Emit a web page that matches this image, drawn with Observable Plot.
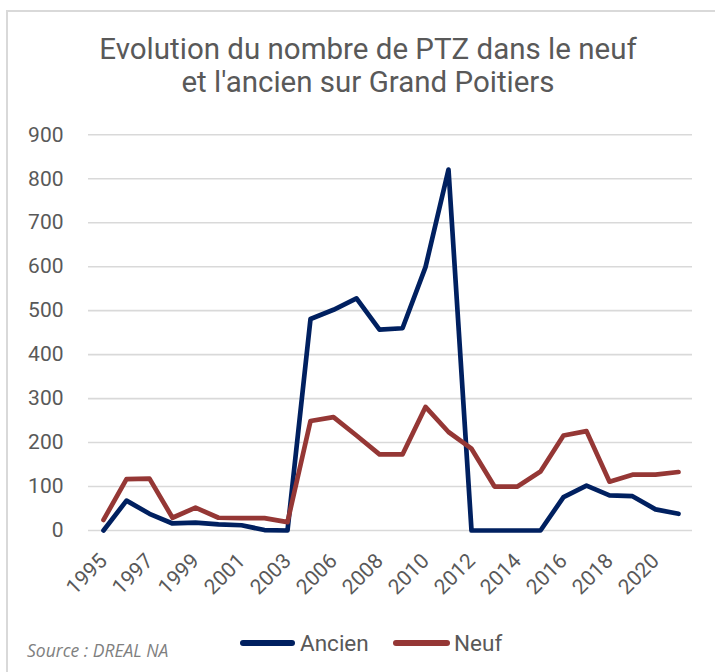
<!DOCTYPE html>
<html>
<head>
<meta charset="utf-8">
<script src="https://cdn.jsdelivr.net/npm/d3@7"></script>
<script src="https://cdn.jsdelivr.net/npm/@observablehq/plot@0.6"></script>
<style>
  html, body { margin: 0; padding: 0; background: #fff; }
  #wrap { position: relative; width: 715px; height: 672px; overflow: hidden; font-family: Roboto, sans-serif; }
  #frame { position: absolute; left: 6px; top: 10px; width: 800px; height: 800px; border: 2px solid #d9d9d9; box-sizing: border-box; }
  #title { position: absolute; left: 0; width: 736px; top: 32.5px; text-align: center; font-size: 29.5px; line-height: 33.8px; color: #595959; }
  #chart { position: absolute; left: 0; top: 110px; }
  #source { position: absolute; left: 27px; top: 638px; font-family: "Open Sans", sans-serif; font-style: italic; font-size: 17.5px; color: #7f7f7f; white-space: nowrap; }
  .sw { position: absolute; height: 6px; border-radius: 3px; top: 639.7px; }
  .lt { position: absolute; top: 630px; font-size: 22.5px; line-height: 26px; color: #595959; white-space: nowrap; }
</style>
</head>
<body>
<div id="wrap">
  <div id="frame"></div>
  <div id="title">Evolution du nombre de PTZ dans le neuf<br>et l'ancien sur Grand Poitiers</div>
  <div id="chart"></div>
  <div id="legend"></div>
  <div id="source">Source : DREAL NA</div>
</div>
<script>
const years = [1995,1996,1997,1998,1999,2000,2001,2002,2003,2005,2006,2007,2008,2009,2010,2011,2012,2013,2014,2015,2016,2017,2018,2019,2020,2021];
const ancien = [0,68,38,16,18,14,12,1,0,481,502,528,457,460,599,821,0,0,0,0,76,102,80,78,48,38];
const neuf = [24,117,118,29,52,29,28,28,19,249,258,216,173,173,281,224,186,100,100,134,216,226,111,127,127,133];
const xTickLabels = [1995,1997,1999,2001,2003,2006,2008,2010,2012,2014,2016,2018,2020];
const yTicks = [0,100,200,300,400,500,600,700,800,900];
const seriesNames = ["Ancien", "Neuf"];
const seriesColors = ["#002060", "#953735"];

const rows = [];
years.forEach((y, i) => {
  rows.push({year: y, value: ancien[i], serie: seriesNames[0]});
  rows.push({year: y, value: neuf[i], serie: seriesNames[1]});
});

const chart = Plot.plot({
  width: 715,
  height: 500,
  marginLeft: 88,
  marginRight: 23,
  marginTop: 24.3,
  marginBottom: 80,
  style: {fontFamily: "Roboto, sans-serif", color: "#595959", background: "transparent", overflow: "visible"},
  x: {type: "point", domain: years, padding: 0.5, label: null},
  y: {domain: [0, 900], label: null},
  color: {domain: seriesNames, range: seriesColors},
  marks: [
    Plot.gridY(yTicks, {stroke: "#d9d9d9", strokeOpacity: 1, strokeWidth: 1.6}),
    Plot.axisY({ticks: yTicks, tickSize: 0, tickPadding: 25, fontSize: 21, label: null}),
    Plot.axisX({ticks: xTickLabels, tickFormat: d => `${d}`, tickSize: 0, tickPadding: 27, tickRotate: -45, fontSize: 21, label: null}),
    Plot.line(rows, {x: "year", y: "value", stroke: "serie", z: "serie", strokeWidth: 4.7, strokeLinejoin: "round", strokeLinecap: "round"})
  ]
});
document.getElementById("chart").appendChild(chart);

// legend (swatch left, swatch width, text left)
const legendPos = [[240, 55, 300], [393, 57, 454]];
const legend = document.getElementById("legend");
seriesNames.forEach((n, i) => {
  const [sx, sw, tx] = legendPos[i];
  const s = document.createElement("div");
  s.className = "sw";
  s.style.left = sx + "px";
  s.style.width = sw + "px";
  s.style.background = seriesColors[i];
  const t = document.createElement("div");
  t.className = "lt";
  t.style.left = tx + "px";
  t.textContent = n;
  legend.appendChild(s);
  legend.appendChild(t);
});
</script>
</body>
</html>
